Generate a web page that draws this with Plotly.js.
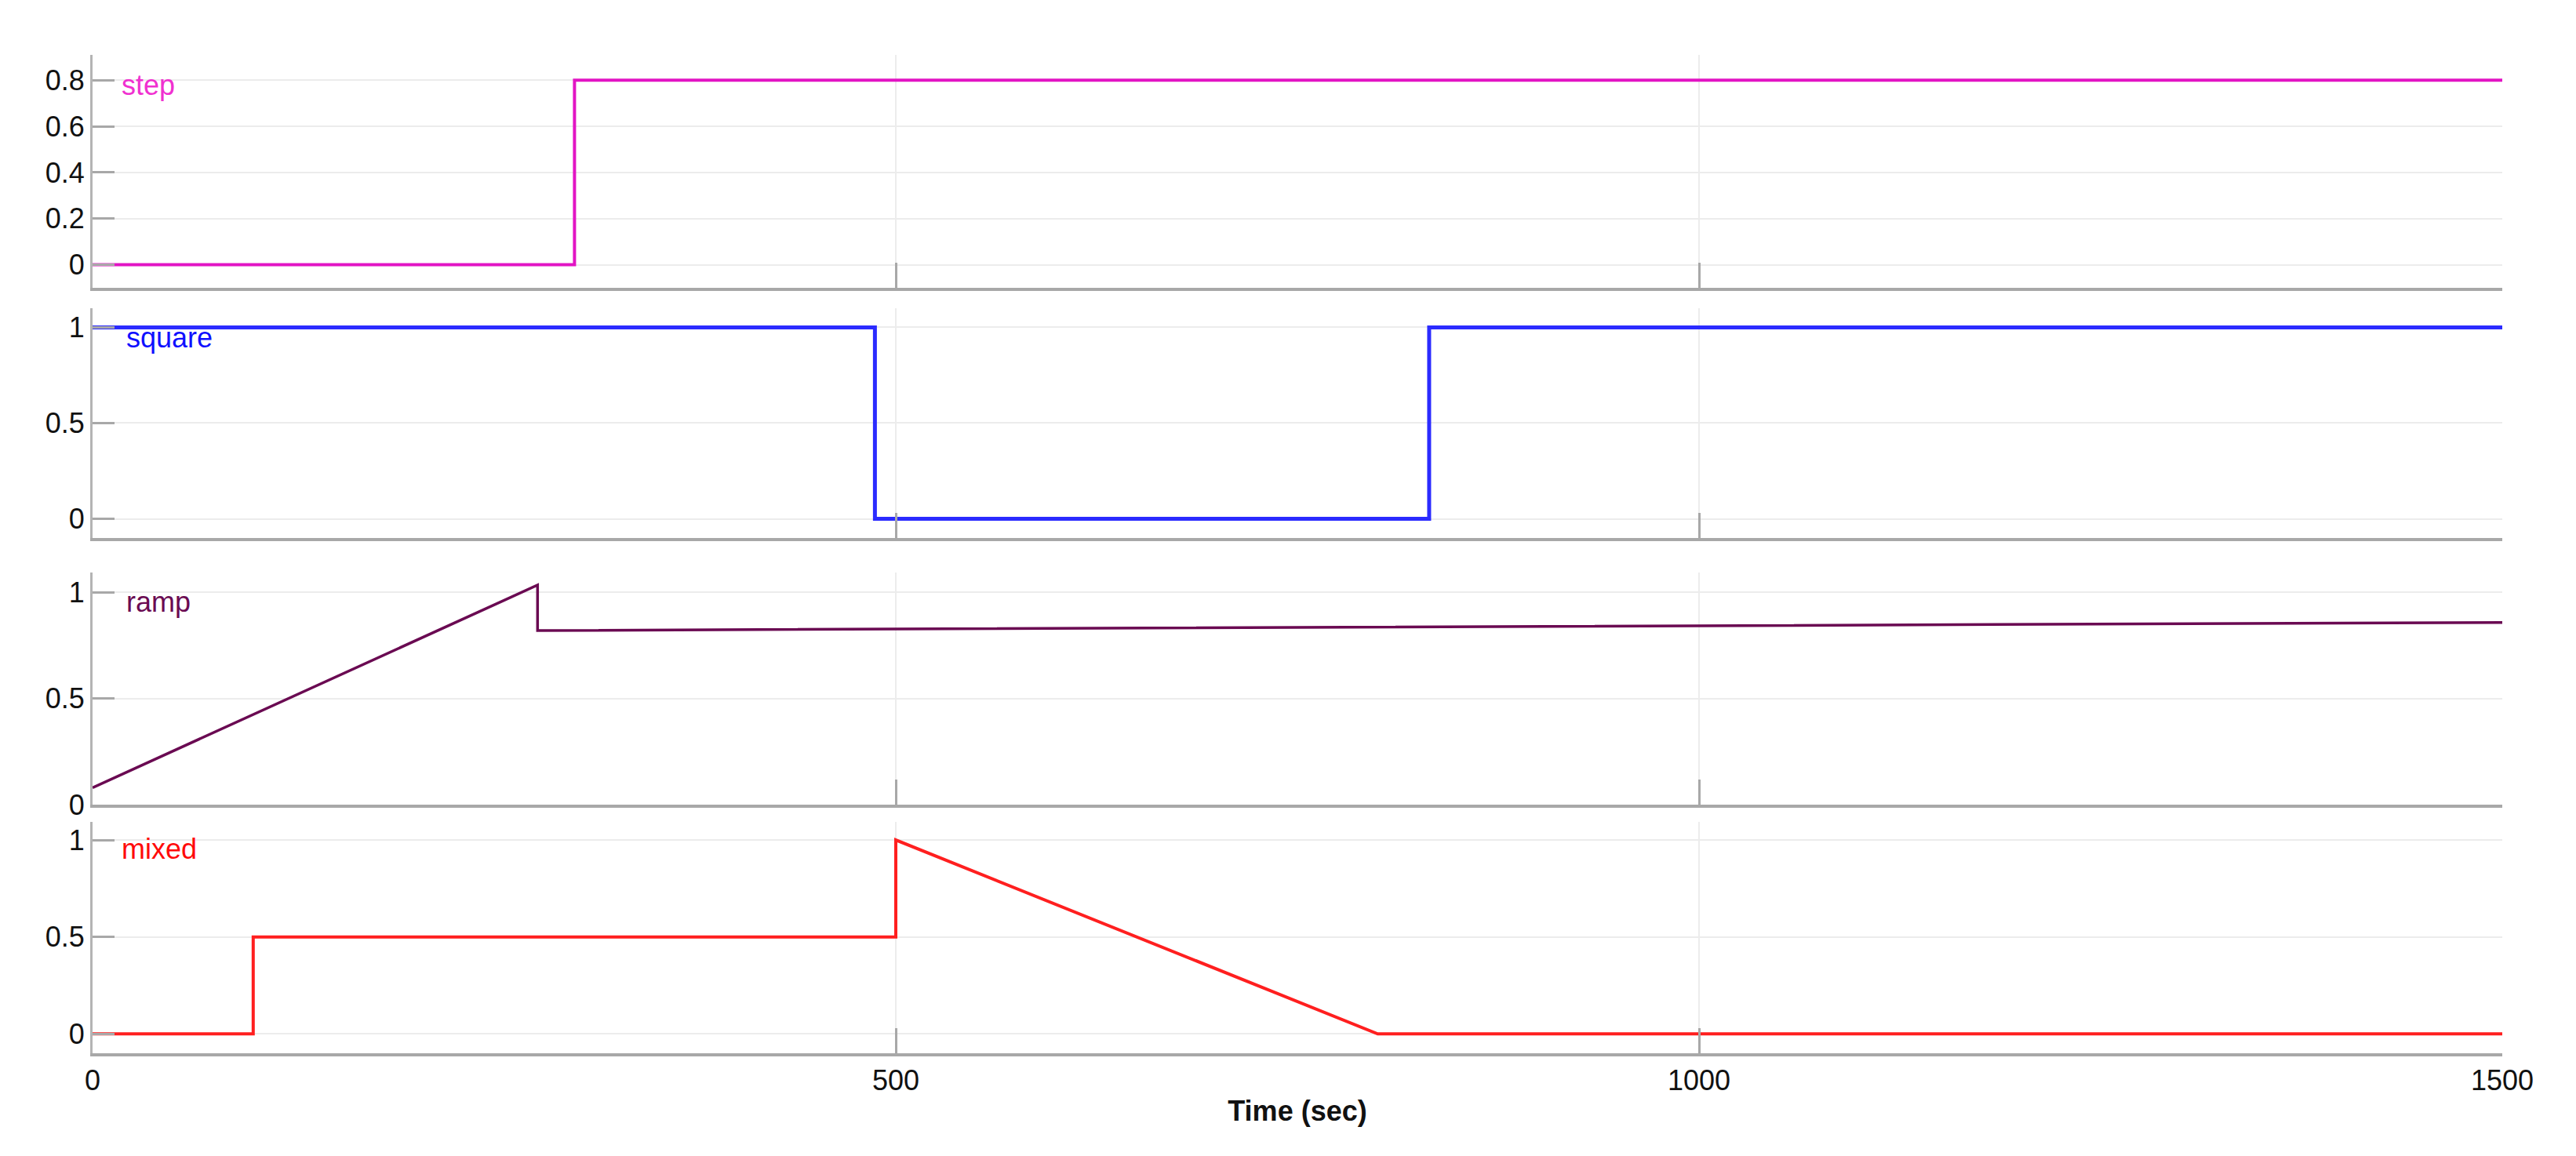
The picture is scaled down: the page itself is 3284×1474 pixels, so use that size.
<!DOCTYPE html>
<html>
<head>
<meta charset="utf-8">
<script src="https://cdn.plot.ly/plotly-3.0.1.min.js"></script>
<style>
  html, body { margin: 0; padding: 0; background: #fff; }
  #chart { width: 3284px; height: 1474px; }
</style>
</head>
<body>
<div id="chart"></div>
<script>
// time points (sec) and signal values for each panel
var stepT = [0, 300, 300, 1500];
var stepV = [0, 0, 0.8, 0.8];

var squareT = [0, 487, 487, 832, 832, 1500];
var squareV = [1, 1, 0, 0, 1, 1];

var rampT = [0, 277, 277, 1500];
var rampV = [0.08, 1.034, 0.82, 0.858];

var mixedT = [0, 100, 100, 500, 500, 800, 1500];
var mixedV = [0, 0, 0.5, 0.5, 1, 0, 0];

var xTicks = [0, 500, 1000, 1500];
var stepTicks = [0, 0.2, 0.4, 0.6, 0.8];
var unitTicks = [0, 0.5, 1];

var names = ['step', 'square', 'ramp', 'mixed'];
var colors = ['#e214c4', '#2b2bff', '#6a0a52', '#ff1f1f'];
var labelColors = ['#f030d0', '#1010ff', '#6a0a52', '#ff0a0a'];

var font = 'Liberation Sans, Arial, sans-serif';

function trace(t, v, i, w) {
    var n = i === 0 ? '' : String(i + 1);
    return {
        x: t,
        y: v,
        xaxis: 'x' + n,
        yaxis: 'y' + n,
        mode: 'lines',
        name: names[i],
        line: { color: colors[i], width: w },
        hoverinfo: 'skip',
    };
}

var data = [
    trace(stepT, stepV, 0, 4),
    trace(squareT, squareV, 1, 5),
    trace(rampT, rampV, 2, 3.5),
    trace(mixedT, mixedV, 3, 4),
];

function xaxis(anchor, labels) {
    return {
        anchor: anchor,
        range: [0, 1500],
        tickvals: xTicks,
        showticklabels: labels,
        ticks: 'inside',
        ticklen: 32,
        tickwidth: 3,
        tickcolor: '#a8a8a8',
        showgrid: true,
        gridcolor: '#ececec',
        gridwidth: 2,
        zeroline: false,
        showline: true,
        linecolor: '#a8a8a8',
        linewidth: 4,
        tickfont: { family: font, size: 36, color: '#111' },
    };
}

function yaxis(anchor, domain, range, ticks) {
    return {
        anchor: anchor,
        domain: domain,
        range: range,
        tickvals: ticks,
        ticks: 'inside',
        ticklen: 28,
        tickwidth: 3,
        tickcolor: '#a8a8a8',
        showgrid: true,
        gridcolor: '#ececec',
        gridwidth: 2,
        zeroline: false,
        showline: true,
        linecolor: '#b4b4b4',
        linewidth: 3,
        tickfont: { family: font, size: 36, color: '#111' },
    };
}

var xBottom = xaxis('y4', true);
xBottom.title = {
    text: 'Time (sec)',
    font: { family: font, size: 36, color: '#111', weight: 'bold' },
    standoff: 8,
};

function label(i, x, y) {
    var n = i === 0 ? '' : String(i + 1);
    return {
        text: names[i],
        x: x,
        y: y,
        xref: 'x' + n,
        yref: 'y' + n,
        xanchor: 'left',
        yanchor: 'middle',
        showarrow: false,
        font: { family: font, size: 36, color: labelColors[i] },
    };
}

var layout = {
    width: 3284,
    height: 1474,
    paper_bgcolor: '#fff',
    plot_bgcolor: '#fff',
    showlegend: false,
    margin: { l: 118, r: 94, t: 70, b: 131 },
    xaxis: xaxis('y', false),
    xaxis2: xaxis('y2', false),
    xaxis3: xaxis('y3', false),
    xaxis4: xBottom,
    yaxis: yaxis('x', [0.7667, 1.0], [-0.1, 0.91], stepTicks),
    yaxis2: yaxis('x2', [0.5161, 0.7463], [-0.1, 1.1], unitTicks),
    yaxis3: yaxis('x3', [0.2490, 0.4815], [0, 1.093], unitTicks),
    yaxis4: yaxis('x4', [0, 0.2317], [-0.1, 1.093], unitTicks),
    annotations: [
        label(0, 17, 0.78),
        label(1, 20, 0.945),
        label(2, 20, 0.955),
        label(3, 17, 0.955),
    ],
};

Plotly.newPlot(document.getElementById('chart'), data, layout, { staticPlot: true });
</script>
</body>
</html>
